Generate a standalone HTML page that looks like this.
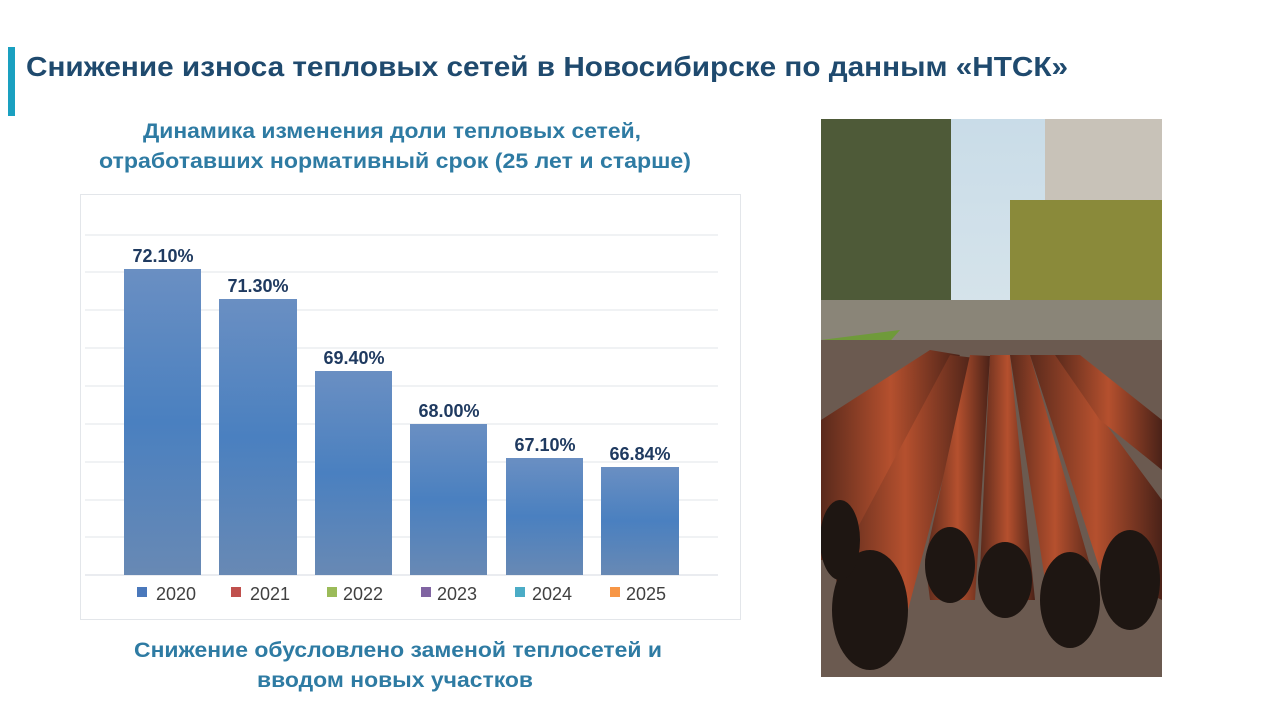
<!DOCTYPE html>
<html><head><meta charset="utf-8"><style>html,body{margin:0;padding:0;background:#fff}svg{display:block}</style></head>
<body>
<svg width="1280" height="720" viewBox="0 0 1280 720" xmlns="http://www.w3.org/2000/svg" font-family="Liberation Sans, sans-serif">
<defs>
<linearGradient id="bar" x1="0" y1="0" x2="0" y2="1">
<stop offset="0" stop-color="#6a8fc2"/><stop offset="0.5" stop-color="#4a80c0"/><stop offset="1" stop-color="#6889b4"/>
</linearGradient>
<linearGradient id="sky" x1="0" y1="0" x2="0" y2="1"><stop offset="0" stop-color="#c9dce8"/><stop offset="1" stop-color="#eef2f0"/></linearGradient>
<linearGradient id="pipe" x1="0" y1="0" x2="1" y2="0"><stop offset="0" stop-color="#5a2a1c"/><stop offset="0.5" stop-color="#b5502e"/><stop offset="1" stop-color="#4a2218"/></linearGradient>
</defs>
<rect x="8" y="47" width="7" height="69" fill="#1aa0c0"/>
<text x="26" y="76" font-size="28" font-weight="bold" fill="#1f4a6e" textLength="1042" lengthAdjust="spacingAndGlyphs">Снижение износа тепловых сетей в Новосибирске по данным «НТСК»</text>
<g font-size="21" font-weight="bold" fill="#2e7ba3" text-anchor="middle">
<text x="392" y="138" textLength="498" lengthAdjust="spacingAndGlyphs">Динамика изменения доли тепловых сетей,</text>
<text x="395" y="168" textLength="592" lengthAdjust="spacingAndGlyphs">отработавших нормативный срок (25 лет и старше)</text>
<text x="398" y="657" textLength="528" lengthAdjust="spacingAndGlyphs">Снижение обусловлено заменой теплосетей и</text>
<text x="395" y="687" textLength="276" lengthAdjust="spacingAndGlyphs">вводом новых участков</text>
</g>
<rect x="80.5" y="194.5" width="660" height="425" fill="#fff" stroke="#e3e6ea"/>
<g stroke="#e2e6ea" stroke-width="1">
<line x1="85" x2="718" y1="235" y2="235"/><line x1="85" x2="718" y1="272" y2="272"/><line x1="85" x2="718" y1="310" y2="310"/><line x1="85" x2="718" y1="348" y2="348"/><line x1="85" x2="718" y1="386" y2="386"/><line x1="85" x2="718" y1="424" y2="424"/><line x1="85" x2="718" y1="462" y2="462"/><line x1="85" x2="718" y1="500" y2="500"/><line x1="85" x2="718" y1="537" y2="537"/><line x1="85" x2="718" y1="575" y2="575" stroke="#d5dae0"/>
</g>
<g fill="url(#bar)">
<rect x="124" y="269" width="77" height="306"/><rect x="219" y="299" width="78" height="276"/><rect x="315" y="371" width="77" height="204"/><rect x="410" y="424" width="77" height="151"/><rect x="506" y="458" width="77" height="117"/><rect x="601" y="467" width="78" height="108"/>
</g>
<g font-size="18" font-weight="bold" fill="#1f3a60" text-anchor="middle">
<text x="163" y="262">72.10%</text><text x="258" y="292">71.30%</text><text x="354" y="364">69.40%</text><text x="449" y="417">68.00%</text><text x="545" y="451">67.10%</text><text x="640" y="460">66.84%</text>
</g>
<g font-size="18" fill="#404040">
<rect x="137" y="587" width="10" height="10" fill="#4a78bb"/><text x="156" y="600">2020</text>
<rect x="231" y="587" width="10" height="10" fill="#c0504d"/><text x="250" y="600">2021</text>
<rect x="327" y="587" width="10" height="10" fill="#9bbb59"/><text x="343" y="600">2022</text>
<rect x="421" y="587" width="10" height="10" fill="#8064a2"/><text x="437" y="600">2023</text>
<rect x="515" y="587" width="10" height="10" fill="#4bacc6"/><text x="532" y="600">2024</text>
<rect x="610" y="587" width="10" height="10" fill="#f79646"/><text x="626" y="600">2025</text>
</g>
<!-- photo -->
<g>
<clipPath id="ph"><rect x="821" y="119" width="341" height="558"/></clipPath>
<g clip-path="url(#ph)">
<rect x="821" y="119" width="341" height="558" fill="url(#sky)"/>
<rect x="1045" y="119" width="117" height="200" fill="#c8c2b8"/>
<rect x="821" y="119" width="130" height="240" fill="#4e5a38"/>
<rect x="1010" y="200" width="152" height="110" fill="#8a8a3a"/>
<rect x="821" y="300" width="341" height="60" fill="#8a8578"/>
<polygon points="821,340 900,330 821,420" fill="#6f9a3a"/>
<rect x="821" y="340" width="341" height="337" fill="#6b5a50"/>
<g fill="url(#pipe)">
<polygon points="821,420 930,350 960,355 840,560 821,560"/>
<polygon points="835,570 950,355 975,358 900,640 845,650"/>
<polygon points="925,560 970,355 990,356 975,600 930,600"/>
<polygon points="980,570 990,355 1010,355 1035,600 985,600"/>
<polygon points="1045,580 1010,355 1030,355 1100,600 1050,620"/>
<polygon points="1100,570 1030,355 1055,355 1162,500 1162,600"/>
<polygon points="1100,420 1055,355 1080,355 1162,420 1162,470"/>
</g>
<g fill="#1e1612">
<ellipse cx="870" cy="610" rx="38" ry="60"/><ellipse cx="950" cy="565" rx="25" ry="38"/><ellipse cx="1005" cy="580" rx="27" ry="38"/><ellipse cx="1070" cy="600" rx="30" ry="48"/><ellipse cx="1130" cy="580" rx="30" ry="50"/><ellipse cx="840" cy="540" rx="20" ry="40"/>
</g>
</g>
</g>
</svg>
</body></html>
